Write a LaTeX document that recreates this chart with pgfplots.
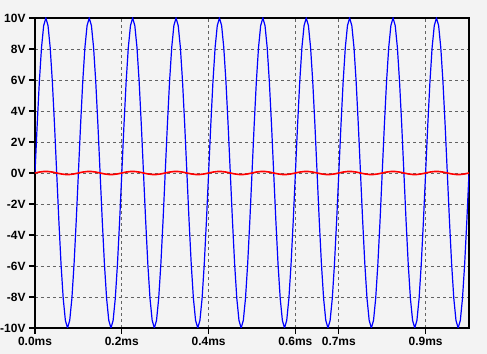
\documentclass[border=0pt]{standalone}
\usepackage{fontspec}
\setmainfont{Liberation Sans}
\usepackage{pgfplots}
\pgfplotsset{compat=1.18}
\definecolor{bg}{RGB}{243,243,243}
\definecolor{ltblue}{RGB}{0,0,255}
\definecolor{ltred}{RGB}{255,0,0}
\definecolor{lblblue}{RGB}{40,40,255}
\definecolor{lblred}{RGB}{255,20,20}
\definecolor{gridc}{RGB}{100,100,100}
\begin{document}
\begin{tikzpicture}
\fill[bg] (-35bp,-26bp) rectangle (452bp,328bp);
\begin{axis}[
  at={(0,0)}, anchor=south west,
  scale only axis, width=434bp, height=310bp,
  xmin=0, xmax=1, ymin=-10, ymax=10,
  axis background/.style={fill=bg},
  axis line style={line width=1.2bp, black},
  xtick={0,0.2,0.4,0.6,0.7,0.9},
  xticklabels={0.0ms,0.2ms,0.4ms,0.6ms,0.7ms,0.9ms},
  ytick={-10,-8,-6,-4,-2,0,2,4,6,8,10},
  yticklabels={-10V,-8V,-6V,-4V,-2V,0V,2V,4V,6V,8V,10V},
  xtick pos=bottom, ytick pos=left,
  tick align=outside, major tick length=6bp,
  tick style={line width=1.2bp, black},
  grid=major,
  major grid style={dash pattern=on 3bp off 3bp, gridc, line width=0.8bp},
  ticklabel style={font=\fontsize{12}{14}\selectfont\bfseries, text=black},
  clip=true,
]
\addplot[ltblue, line width=1.2bp] coordinates {
(0.000,0)(0.005,3.09)(0.010,5.88)(0.015,8.09)(0.020,9.51)(0.025,10)(0.030,9.51)(0.035,8.09)(0.040,5.88)(0.045,3.09)(0.050,0)(0.055,-3.09)(0.060,-5.88)(0.065,-8.09)(0.070,-9.51)(0.075,-10)(0.080,-9.51)(0.085,-8.09)(0.090,-5.88)(0.095,-3.09)
(0.100,0)(0.105,3.09)(0.110,5.88)(0.115,8.09)(0.120,9.51)(0.125,10)(0.130,9.51)(0.135,8.09)(0.140,5.88)(0.145,3.09)(0.150,0)(0.155,-3.09)(0.160,-5.88)(0.165,-8.09)(0.170,-9.51)(0.175,-10)(0.180,-9.51)(0.185,-8.09)(0.190,-5.88)(0.195,-3.09)
(0.200,0)(0.205,3.09)(0.210,5.88)(0.215,8.09)(0.220,9.51)(0.225,10)(0.230,9.51)(0.235,8.09)(0.240,5.88)(0.245,3.09)(0.250,0)(0.255,-3.09)(0.260,-5.88)(0.265,-8.09)(0.270,-9.51)(0.275,-10)(0.280,-9.51)(0.285,-8.09)(0.290,-5.88)(0.295,-3.09)
(0.300,0)(0.305,3.09)(0.310,5.88)(0.315,8.09)(0.320,9.51)(0.325,10)(0.330,9.51)(0.335,8.09)(0.340,5.88)(0.345,3.09)(0.350,0)(0.355,-3.09)(0.360,-5.88)(0.365,-8.09)(0.370,-9.51)(0.375,-10)(0.380,-9.51)(0.385,-8.09)(0.390,-5.88)(0.395,-3.09)
(0.400,0)(0.405,3.09)(0.410,5.88)(0.415,8.09)(0.420,9.51)(0.425,10)(0.430,9.51)(0.435,8.09)(0.440,5.88)(0.445,3.09)(0.450,0)(0.455,-3.09)(0.460,-5.88)(0.465,-8.09)(0.470,-9.51)(0.475,-10)(0.480,-9.51)(0.485,-8.09)(0.490,-5.88)(0.495,-3.09)
(0.500,0)(0.505,3.09)(0.510,5.88)(0.515,8.09)(0.520,9.51)(0.525,10)(0.530,9.51)(0.535,8.09)(0.540,5.88)(0.545,3.09)(0.550,0)(0.555,-3.09)(0.560,-5.88)(0.565,-8.09)(0.570,-9.51)(0.575,-10)(0.580,-9.51)(0.585,-8.09)(0.590,-5.88)(0.595,-3.09)
(0.600,0)(0.605,3.09)(0.610,5.88)(0.615,8.09)(0.620,9.51)(0.625,10)(0.630,9.51)(0.635,8.09)(0.640,5.88)(0.645,3.09)(0.650,0)(0.655,-3.09)(0.660,-5.88)(0.665,-8.09)(0.670,-9.51)(0.675,-10)(0.680,-9.51)(0.685,-8.09)(0.690,-5.88)(0.695,-3.09)
(0.700,0)(0.705,3.09)(0.710,5.88)(0.715,8.09)(0.720,9.51)(0.725,10)(0.730,9.51)(0.735,8.09)(0.740,5.88)(0.745,3.09)(0.750,0)(0.755,-3.09)(0.760,-5.88)(0.765,-8.09)(0.770,-9.51)(0.775,-10)(0.780,-9.51)(0.785,-8.09)(0.790,-5.88)(0.795,-3.09)
(0.800,0)(0.805,3.09)(0.810,5.88)(0.815,8.09)(0.820,9.51)(0.825,10)(0.830,9.51)(0.835,8.09)(0.840,5.88)(0.845,3.09)(0.850,0)(0.855,-3.09)(0.860,-5.88)(0.865,-8.09)(0.870,-9.51)(0.875,-10)(0.880,-9.51)(0.885,-8.09)(0.890,-5.88)(0.895,-3.09)
(0.900,0)(0.905,3.09)(0.910,5.88)(0.915,8.09)(0.920,9.51)(0.925,10)(0.930,9.51)(0.935,8.09)(0.940,5.88)(0.945,3.09)(0.950,0)(0.955,-3.09)(0.960,-5.88)(0.965,-8.09)(0.970,-9.51)(0.975,-10)(0.980,-9.51)(0.985,-8.09)(0.990,-5.88)(0.995,-3.09)
(1.000,0)
};
\addplot[ltred, line width=1.6bp] coordinates {
(0.00,0)(0.01,0.06)(0.02,0.095)(0.03,0.095)(0.04,0.06)(0.05,0)(0.06,-0.06)(0.07,-0.095)(0.08,-0.095)(0.09,-0.06)
(0.10,0)(0.11,0.06)(0.12,0.095)(0.13,0.095)(0.14,0.06)(0.15,0)(0.16,-0.06)(0.17,-0.095)(0.18,-0.095)(0.19,-0.06)
(0.20,0)(0.21,0.06)(0.22,0.095)(0.23,0.095)(0.24,0.06)(0.25,0)(0.26,-0.06)(0.27,-0.095)(0.28,-0.095)(0.29,-0.06)
(0.30,0)(0.31,0.06)(0.32,0.095)(0.33,0.095)(0.34,0.06)(0.35,0)(0.36,-0.06)(0.37,-0.095)(0.38,-0.095)(0.39,-0.06)
(0.40,0)(0.41,0.06)(0.42,0.095)(0.43,0.095)(0.44,0.06)(0.45,0)(0.46,-0.06)(0.47,-0.095)(0.48,-0.095)(0.49,-0.06)
(0.50,0)(0.51,0.06)(0.52,0.095)(0.53,0.095)(0.54,0.06)(0.55,0)(0.56,-0.06)(0.57,-0.095)(0.58,-0.095)(0.59,-0.06)
(0.60,0)(0.61,0.06)(0.62,0.095)(0.63,0.095)(0.64,0.06)(0.65,0)(0.66,-0.06)(0.67,-0.095)(0.68,-0.095)(0.69,-0.06)
(0.70,0)(0.71,0.06)(0.72,0.095)(0.73,0.095)(0.74,0.06)(0.75,0)(0.76,-0.06)(0.77,-0.095)(0.78,-0.095)(0.79,-0.06)
(0.80,0)(0.81,0.06)(0.82,0.095)(0.83,0.095)(0.84,0.06)(0.85,0)(0.86,-0.06)(0.87,-0.095)(0.88,-0.095)(0.89,-0.06)
(0.90,0)(0.91,0.06)(0.92,0.095)(0.93,0.095)(0.94,0.06)(0.95,0)(0.96,-0.06)(0.97,-0.095)(0.98,-0.095)(0.99,-0.06)
(1.00,0)
};
\node[anchor=base, font=\fontsize{12}{14}\selectfont\bfseries, text=lblblue] at (rel axis cs:0.25,1) [yshift=4.5bp] {V(n001)};
\node[anchor=base, font=\fontsize{12}{14}\selectfont\bfseries, text=lblred] at (rel axis cs:0.749,1) [yshift=4.5bp] {V(n002)};
\end{axis}
\pgfresetboundingbox
\path[use as bounding box] (-35bp,-26bp) rectangle (452bp,328bp);
\end{tikzpicture}
\end{document}
